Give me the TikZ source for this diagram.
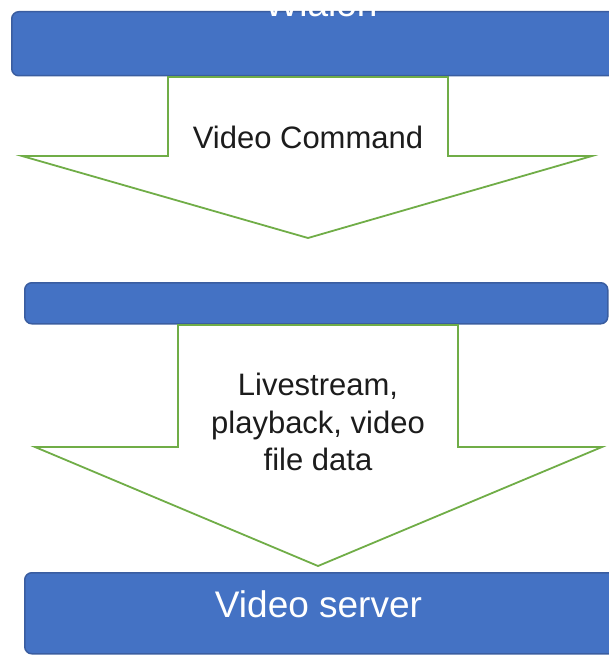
\documentclass[tikz,border=0pt]{standalone}
\usepackage{fontspec}
\setmainfont{Liberation Sans}
\usetikzlibrary{calc,positioning}
\definecolor{boxblue}{HTML}{4472C4}
\definecolor{boxedge}{HTML}{3A5DA0}
\definecolor{arrowgreen}{HTML}{70AD47}
\definecolor{inktext}{HTML}{1C1C1C}
\tikzset{
  srvbox/.style={
    draw=boxedge,
    fill=boxblue,
    line width=1.5pt,
    rounded corners=7pt,
    inner sep=0pt,
    anchor=north west
  },
  flowarrow/.style={draw=arrowgreen, fill=white, line width=1.8pt, line join=miter},
  boxlbl/.style={text=white, font=\fontsize{37}{40}\selectfont, inner sep=0pt, anchor=base},
  arrlbl/.style={text=inktext, font=\fontsize{31}{37.5}\selectfont, inner sep=0pt, align=center},
}

\begin{document}
\begin{tikzpicture}[x=1pt, y=-1pt]
  \useasboundingbox (0,0) rectangle (609,655);
  \clip (0,0) rectangle (609,655);
  % blue boxes
  \node[srvbox, minimum width=640pt, minimum height=64pt] (wialon) at (11,11) {};
  \node[srvbox, minimum width=583pt, minimum height=41pt] (midbox) at (24,282) {};
  \node[srvbox, minimum width=640pt, minimum height=81pt] (vserver) at (24,572) {};
  \node[boxlbl] (wialonlbl) at (321,17) {Wialon};
  \node[boxlbl] (vserverlbl) at (318.5,617) {Video server};
  % block arrows
  \draw[flowarrow] (168,77) -- (448,77) -- (448,156) -- (592,156) -- (308,238)
    -- (22,156) -- (168,156) -- cycle;
  \node[arrlbl, anchor=base] (cmdlbl) at (308,149) {Video Command};
  \draw[flowarrow] (178,325) -- (458,325) -- (458,447) -- (602,447) -- (318,566)
    -- (35,447) -- (178,447) -- cycle;
  \node[arrlbl] (datalbl) at (318,422) {Livestream,\\playback, video\\file data};
\end{tikzpicture}
\end{document}
